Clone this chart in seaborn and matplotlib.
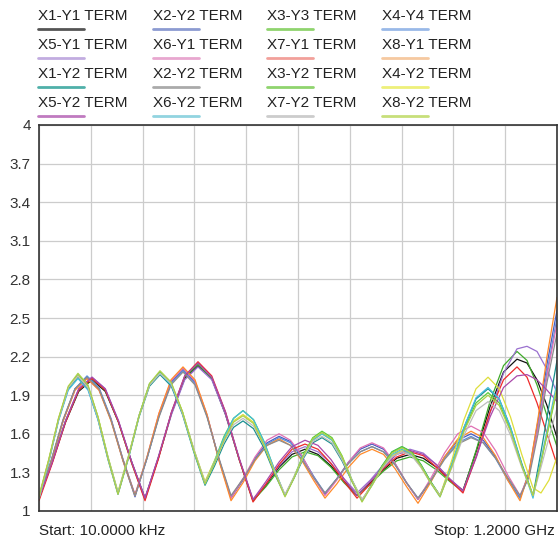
import numpy as np
import pandas as pd
import matplotlib.pyplot as plt
from matplotlib.lines import Line2D
import seaborn as sns

# Sweep points (MHz), one set per group of traces with the same ripple period
freq_a_mhz = [0.01, 22.6, 45.2, 67.8, 90.3, 113.5, 136.7, 159.8, 183.0, 207.3, 231.7, 256.0, 280.3,
              306.4, 332.4, 358.5, 384.6, 406.6, 428.6, 450.6, 472.6, 496.9, 521.2, 545.6, 569.9,
              591.3, 612.7, 634.2, 655.6, 678.8, 701.9, 725.1, 748.3, 771.4, 794.6, 817.8, 840.9,
              862.9, 884.9, 907.0, 929.0, 956.8, 984.6, 1012.4, 1040.2, 1066.2, 1092.3, 1118.3,
              1144.4, 1162.9, 1181.5, 1200.0]
freq_b_mhz = [0.01, 27.8, 55.6, 83.4, 111.2, 139.0, 166.8, 194.6, 222.4, 250.2, 278.0, 305.8, 333.6,
              361.4, 389.2, 417.0, 444.8, 472.6, 500.4, 528.2, 556.0, 582.6, 609.3, 635.9, 662.5,
              689.8, 717.0, 744.2, 771.4, 798.1, 824.7, 851.4, 878.0, 908.7, 939.4, 970.1, 1000.8,
              1029.2, 1057.5, 1085.9, 1114.3, 1135.1, 1156.0, 1176.8, 1200.0]
freq_c_mhz = [0.01, 30.7, 61.4, 92.1, 122.8, 153.5, 184.2, 214.9, 245.6, 276.3, 307.0, 337.6, 368.3,
              400.2, 432.0, 463.9, 495.8, 525.9, 556.0, 586.1, 616.2, 646.3, 676.4, 706.6, 736.7,
              767.4, 798.1, 828.8, 859.5, 890.2, 920.8, 951.5, 982.2, 1013.5, 1044.8, 1076.1, 1107.3,
              1130.5, 1153.7, 1176.8, 1200.0]

x1_y1 = [1.10, 1.38, 1.69, 1.93, 2.02, 1.93, 1.69, 1.38, 1.10, 1.41, 1.76, 2.03, 2.13, 2.03, 1.75, 1.40,
         1.08, 1.20, 1.34, 1.44, 1.48, 1.44, 1.35, 1.23, 1.12, 1.22, 1.32, 1.41, 1.44, 1.41, 1.34, 1.24,
         1.16, 1.47, 1.81, 2.08, 2.18, 2.15, 2.02, 1.82, 1.57]
x2_y2_a = [1.10, 1.38, 1.70, 1.95, 2.04, 1.95, 1.71, 1.39, 1.11, 1.41, 1.74, 2.00, 2.10, 2.00, 1.74, 1.40,
           1.10, 1.24, 1.41, 1.53, 1.58, 1.54, 1.42, 1.27, 1.13, 1.25, 1.38, 1.48, 1.52, 1.48, 1.37, 1.22,
           1.09, 1.24, 1.42, 1.55, 1.60, 1.55, 1.42, 1.25, 1.10, 1.30, 1.70, 2.14, 2.56]
x3_y3 = [1.11, 1.39, 1.70, 1.94, 2.03, 1.94, 1.69, 1.37, 1.09, 1.41, 1.76, 2.04, 2.14, 2.03, 1.76, 1.40,
         1.08, 1.19, 1.32, 1.42, 1.46, 1.43, 1.34, 1.22, 1.12, 1.21, 1.31, 1.39, 1.42, 1.39, 1.32, 1.23,
         1.15, 1.48, 1.85, 2.13, 2.24, 2.17, 1.98, 1.74, 1.50]
x4_y4 = [1.09, 1.38, 1.70, 1.95, 2.05, 1.96, 1.72, 1.40, 1.12, 1.41, 1.74, 1.99, 2.09, 1.99, 1.74, 1.40,
         1.11, 1.25, 1.40, 1.52, 1.57, 1.53, 1.42, 1.27, 1.14, 1.25, 1.37, 1.46, 1.50, 1.46, 1.36, 1.22,
         1.10, 1.24, 1.41, 1.53, 1.58, 1.53, 1.41, 1.24, 1.10, 1.28, 1.66, 2.08, 2.50]
x5_y1 = [1.10, 1.38, 1.70, 1.95, 2.04, 1.95, 1.70, 1.38, 1.10, 1.41, 1.75, 2.02, 2.12, 2.02, 1.75, 1.40,
         1.09, 1.21, 1.35, 1.46, 1.50, 1.46, 1.37, 1.25, 1.14, 1.24, 1.36, 1.45, 1.48, 1.45, 1.36, 1.25,
         1.15, 1.42, 1.76, 2.07, 2.26, 2.28, 2.24, 2.10, 1.92]
x6_y1 = [1.10, 1.38, 1.70, 1.94, 2.03, 1.94, 1.71, 1.40, 1.13, 1.42, 1.76, 2.01, 2.11, 2.01, 1.75, 1.40,
         1.10, 1.25, 1.42, 1.55, 1.60, 1.55, 1.43, 1.26, 1.12, 1.24, 1.38, 1.49, 1.53, 1.49, 1.37, 1.22,
         1.09, 1.26, 1.45, 1.60, 1.66, 1.61, 1.47, 1.28, 1.12, 1.28, 1.64, 2.05, 2.46]
x7_y1 = [1.08, 1.37, 1.69, 1.94, 2.03, 1.94, 1.69, 1.37, 1.08, 1.40, 1.77, 2.05, 2.16, 2.05, 1.77, 1.40,
         1.07, 1.21, 1.36, 1.48, 1.52, 1.48, 1.37, 1.23, 1.10, 1.21, 1.33, 1.42, 1.46, 1.43, 1.34, 1.24,
         1.14, 1.43, 1.77, 2.02, 2.12, 2.04, 1.84, 1.60, 1.36]
x8_y1 = [1.10, 1.38, 1.70, 1.94, 2.03, 1.94, 1.70, 1.39, 1.12, 1.42, 1.76, 2.02, 2.12, 2.02, 1.75, 1.39,
         1.08, 1.22, 1.39, 1.51, 1.56, 1.51, 1.39, 1.24, 1.10, 1.21, 1.34, 1.44, 1.48, 1.44, 1.33, 1.19,
         1.06, 1.23, 1.42, 1.56, 1.62, 1.57, 1.43, 1.24, 1.08, 1.30, 1.72, 2.20, 2.66]
x1_y2 = [1.11, 1.39, 1.71, 1.95, 2.04, 1.95, 1.71, 1.40, 1.13, 1.41, 1.73, 1.97, 2.06, 1.97, 1.75, 1.46,
         1.20, 1.35, 1.52, 1.65, 1.70, 1.64, 1.49, 1.29, 1.12, 1.26, 1.41, 1.53, 1.57, 1.52, 1.39, 1.23,
         1.08, 1.21, 1.35, 1.46, 1.50, 1.46, 1.36, 1.23, 1.12, 1.37, 1.65, 1.87, 1.95, 1.87, 1.65, 1.37,
         1.12, 1.46, 1.82, 2.17]
x2_y2_b = [1.11, 1.39, 1.71, 1.95, 2.04, 1.95, 1.71, 1.40, 1.12, 1.41, 1.73, 1.98, 2.08, 1.98, 1.73, 1.41,
           1.12, 1.25, 1.40, 1.51, 1.55, 1.51, 1.40, 1.26, 1.14, 1.25, 1.37, 1.46, 1.50, 1.46, 1.36, 1.22,
           1.10, 1.24, 1.40, 1.52, 1.57, 1.53, 1.41, 1.26, 1.12, 1.26, 1.60, 2.00, 2.38]
x3_y2 = [1.10, 1.39, 1.71, 1.96, 2.06, 1.97, 1.73, 1.42, 1.14, 1.42, 1.74, 1.99, 2.08, 1.99, 1.77, 1.48,
         1.22, 1.39, 1.58, 1.72, 1.78, 1.71, 1.54, 1.32, 1.12, 1.27, 1.44, 1.57, 1.62, 1.57, 1.43, 1.24,
         1.08, 1.21, 1.35, 1.46, 1.50, 1.46, 1.36, 1.23, 1.12, 1.36, 1.63, 1.84, 1.92, 1.84, 1.63, 1.36,
         1.12, 1.38, 1.66, 1.94]
x4_y2 = [1.12, 1.40, 1.72, 1.96, 2.05, 1.96, 1.73, 1.42, 1.15, 1.43, 1.74, 1.98, 2.07, 1.99, 1.77, 1.48,
         1.23, 1.39, 1.56, 1.70, 1.75, 1.69, 1.52, 1.31, 1.12, 1.26, 1.43, 1.55, 1.60, 1.55, 1.42, 1.24,
         1.09, 1.20, 1.33, 1.43, 1.47, 1.44, 1.34, 1.22, 1.12, 1.40, 1.71, 1.95, 2.04, 1.95, 1.73, 1.44,
         1.18, 1.14, 1.24, 1.42]
x5_y2 = [1.10, 1.38, 1.70, 1.95, 2.04, 1.95, 1.70, 1.38, 1.10, 1.42, 1.77, 2.05, 2.15, 2.04, 1.77, 1.41,
         1.09, 1.23, 1.38, 1.50, 1.55, 1.51, 1.40, 1.25, 1.12, 1.23, 1.34, 1.44, 1.47, 1.44, 1.36, 1.25,
         1.16, 1.43, 1.73, 1.96, 2.05, 2.06, 2.02, 1.94, 1.85]
x6_y2 = [1.10, 1.38, 1.70, 1.94, 2.03, 1.94, 1.71, 1.41, 1.14, 1.42, 1.74, 1.98, 2.07, 1.98, 1.76, 1.47,
         1.21, 1.38, 1.57, 1.72, 1.78, 1.71, 1.54, 1.32, 1.12, 1.26, 1.43, 1.55, 1.60, 1.55, 1.41, 1.24,
         1.08, 1.20, 1.34, 1.44, 1.48, 1.44, 1.35, 1.22, 1.11, 1.37, 1.65, 1.88, 1.96, 1.87, 1.65, 1.36,
         1.10, 1.40, 1.70, 2.00]
x7_y2 = [1.10, 1.39, 1.71, 1.96, 2.05, 1.96, 1.72, 1.41, 1.14, 1.42, 1.74, 1.98, 2.07, 1.99, 1.76, 1.48,
         1.22, 1.37, 1.54, 1.67, 1.72, 1.66, 1.51, 1.31, 1.13, 1.27, 1.42, 1.54, 1.58, 1.53, 1.40, 1.24,
         1.09, 1.20, 1.33, 1.42, 1.46, 1.43, 1.34, 1.22, 1.12, 1.34, 1.59, 1.78, 1.85, 1.78, 1.59, 1.34,
         1.12, 1.34, 1.57, 1.80]
x8_y2 = [1.11, 1.40, 1.72, 1.97, 2.07, 1.98, 1.73, 1.41, 1.13, 1.42, 1.74, 1.99, 2.09, 2.00, 1.77, 1.47,
         1.21, 1.37, 1.55, 1.69, 1.74, 1.68, 1.51, 1.30, 1.11, 1.26, 1.43, 1.56, 1.61, 1.56, 1.42, 1.23,
         1.07, 1.20, 1.34, 1.45, 1.49, 1.45, 1.35, 1.22, 1.11, 1.35, 1.62, 1.82, 1.90, 1.82, 1.62, 1.35,
         1.12, 1.38, 1.67, 1.96]

labels = ['X1-Y1 TERM', 'X2-Y2 TERM', 'X3-Y3 TERM', 'X4-Y4 TERM',
          'X5-Y1 TERM', 'X6-Y1 TERM', 'X7-Y1 TERM', 'X8-Y1 TERM',
          'X1-Y2 TERM', 'X2-Y2 TERM', 'X3-Y2 TERM', 'X4-Y2 TERM',
          'X5-Y2 TERM', 'X6-Y2 TERM', 'X7-Y2 TERM', 'X8-Y2 TERM']
trace_values = [x1_y1, x2_y2_a, x3_y3, x4_y4, x5_y1, x6_y1, x7_y1, x8_y1,
                x1_y2, x2_y2_b, x3_y2, x4_y2, x5_y2, x6_y2, x7_y2, x8_y2]
trace_freqs = [freq_c_mhz, freq_b_mhz, freq_c_mhz, freq_b_mhz, freq_c_mhz, freq_b_mhz, freq_c_mhz, freq_b_mhz,
               freq_a_mhz, freq_b_mhz, freq_a_mhz, freq_a_mhz, freq_c_mhz, freq_a_mhz, freq_a_mhz, freq_a_mhz]

y_ticks = [1, 1.3, 1.6, 1.9, 2.2, 2.5, 2.8, 3.1, 3.4, 3.7, 4]
y_tick_labels = ['1', '1.3', '1.6', '1.9', '2.2', '2.5', '2.8', '3.1', '3.4', '3.7', '4']
x_grid_mhz = [0, 120, 240, 360, 480, 600, 720, 840, 960, 1080, 1200]
start_label = 'Start: 10.0000 kHz'
stop_label = 'Stop: 1.2000 GHz'

# trace colours and the paler swatch colours used in the legend
line_colors = ['#111111', '#4a5cc0', '#3faa2a', '#5a8fdc', '#9a70cf', '#e070b4', '#ee2a2a', '#ff8a2a',
               '#1a9090', '#8c8c8c', '#5ccc3a', '#dede3a', '#aa48aa', '#45bddd', '#bdbdbd', '#abd048']
swatch_colors = ['#555555', '#8c9bd1', '#8fd46e', '#99b9e8', '#c2ace0', '#e8a7cf', '#f2a09a', '#f6c9a0',
                 '#4fb0a9', '#aaaaaa', '#8fd46e', '#eef07a', '#c07ac0', '#92d4e0', '#cccccc', '#c7df7a']

sns.set_theme(style='white')
plt.rcParams['font.family'] = ['Liberation Sans', 'DejaVu Sans']

frames = []
for i, (freqs, vals) in enumerate(zip(trace_freqs, trace_values)):
    frames.append(pd.DataFrame({'freq_mhz': freqs, 'value': vals, 'trace': f't{i:02d}'}))
df = pd.concat(frames, ignore_index=True)
palette = {f't{i:02d}': c for i, c in enumerate(line_colors)}

W, H = 558, 542
fig = plt.figure(figsize=(W / 100, H / 100), dpi=100)
ax = fig.add_axes([39 / W, 1 - 511 / H, 518 / W, 386 / H])

sns.lineplot(data=df, x='freq_mhz', y='value', hue='trace', palette=palette, estimator=None,
             sort=False, legend=False, linewidth=0.9, ax=ax)

ax.set_xlim(x_grid_mhz[0], x_grid_mhz[-1])
ax.set_ylim(y_ticks[0], y_ticks[-1])
ax.set_xticks(x_grid_mhz)
ax.set_xticklabels([])
ax.set_yticks(y_ticks)
ax.set_yticklabels(y_tick_labels)
ax.set_xlabel('')
ax.set_ylabel('')
ax.tick_params(axis='both', length=0)
ax.tick_params(axis='y', pad=6, labelsize=11, labelcolor='#333333')
ax.grid(True, color='#cccccc', linewidth=0.9)
ax.set_axisbelow(True)
for side in ['left', 'bottom', 'top', 'right']:
    ax.spines[side].set_color('#333333')
    ax.spines[side].set_linewidth(1.2)

# legend laid out as a 4 x 4 block of text with a coloured underline
col_x0, col_step = 38, 114.7
row_y0, row_step = 16, 29
for i, label in enumerate(labels):
    r, c = divmod(i, 4)
    tx = col_x0 + c * col_step
    ty = row_y0 + r * row_step
    fig.text(tx / W, 1 - ty / H, label, ha='left', va='center', fontsize=11, color='#222222')
    uy = ty + 13
    fig.add_artist(Line2D([tx / W, (tx + 46) / W], [1 - uy / H, 1 - uy / H],
                          transform=fig.transFigure, color=swatch_colors[i], linewidth=2))

fig.text(39 / W, 1 - 531 / H, start_label, ha='left', va='center', fontsize=11, color='#222222')
fig.text(555 / W, 1 - 531 / H, stop_label, ha='right', va='center', fontsize=11, color='#222222')

fig.savefig('out.png', dpi=100)
